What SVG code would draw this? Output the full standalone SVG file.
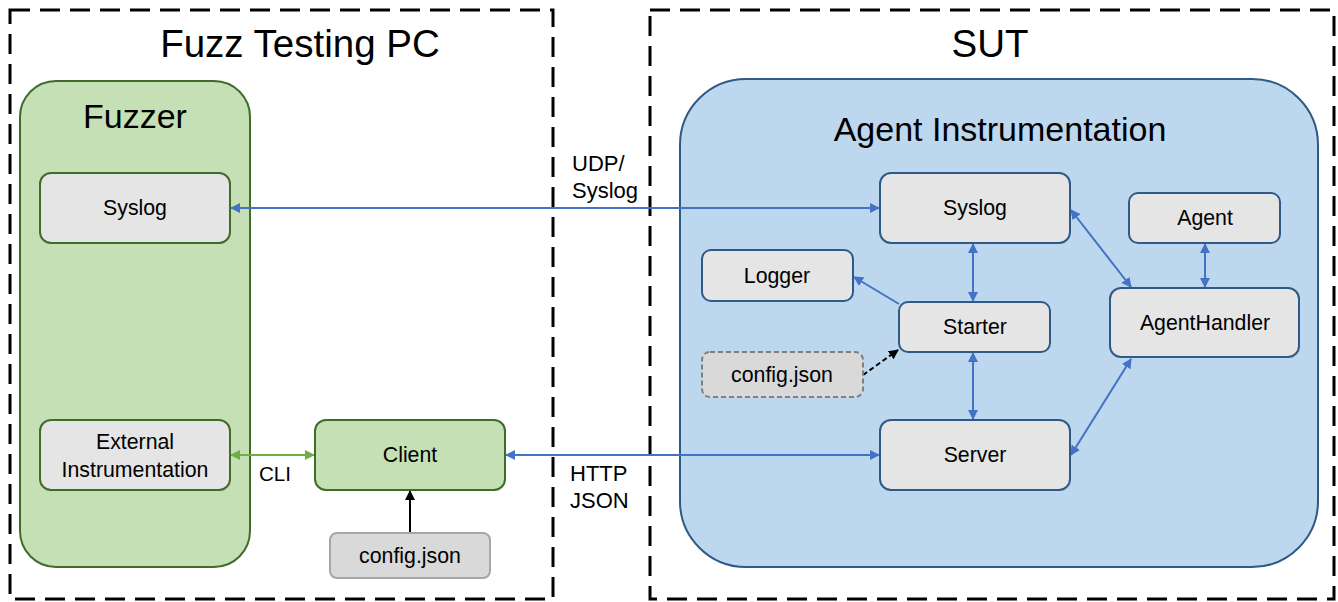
<svg xmlns="http://www.w3.org/2000/svg" width="1338" height="602" viewBox="0 0 1338 602">
  <style>
    text { font-family: "Liberation Sans", Arial, sans-serif; fill: #000; }
    .title { font-size: 38.5px; text-anchor: middle; }
    .head { font-size: 34px; text-anchor: middle; }
    .lbl { font-size: 21.3px; text-anchor: middle; }
    .edge { font-size: 22px; }
    .frame { fill: none; stroke: #000; stroke-width: 3; stroke-dasharray: 20 10; }
    .gnode { fill: #e5e5e5; stroke: #3f6b2b; stroke-width: 2; }
    .bnode { fill: #e5e5e5; stroke: #2f5a87; stroke-width: 2; }
    .blue { stroke: #4472c4; stroke-width: 2; fill: none; }
    .green { stroke: #70ad47; stroke-width: 2; fill: none; }
  </style>
  <defs>
    <marker id="ab" viewBox="0 0 10 10" refX="9" refY="5" markerWidth="5" markerHeight="5" orient="auto-start-reverse">
      <path d="M0,0 L10,5 L0,10 z" fill="#4472c4"/>
    </marker>
    <marker id="ag" viewBox="0 0 10 10" refX="9" refY="5" markerWidth="5" markerHeight="5" orient="auto-start-reverse">
      <path d="M0,0 L10,5 L0,10 z" fill="#70ad47"/>
    </marker>
    <marker id="ak" viewBox="0 0 10 10" refX="9" refY="5" markerWidth="5" markerHeight="5" orient="auto-start-reverse">
      <path d="M0,0 L10,5 L0,10 z" fill="#000"/>
    </marker>
  </defs>

  <rect width="1338" height="602" fill="#fff"/>

  <!-- host frames -->
  <g id="fuzz-pc">
    <rect class="frame" x="10" y="10" width="543" height="589"/>
    <text class="title" x="300" y="57">Fuzz Testing PC</text>
  </g>
  <g id="sut">
    <rect class="frame" x="650" y="10" width="684" height="589"/>
    <text class="title" x="990" y="57">SUT</text>
  </g>

  <!-- containers -->
  <g id="fuzzer">
    <rect x="20" y="81" width="230" height="486" rx="36" fill="#c5e0b4" stroke="#3f6b2b" stroke-width="2"/>
    <text class="head" x="135" y="128">Fuzzer</text>
  </g>
  <g id="agent-instrumentation">
    <rect x="680" y="79" width="638" height="488" rx="66" fill="#bdd7ee" stroke="#2f5a87" stroke-width="2"/>
    <text class="head" x="1000" y="141">Agent Instrumentation</text>
  </g>

  <!-- connectors -->
  <g id="connectors">
    <line class="blue" x1="231" y1="208" x2="879" y2="208" marker-start="url(#ab)" marker-end="url(#ab)"/>
    <line class="blue" x1="506" y1="455" x2="879" y2="455" marker-start="url(#ab)" marker-end="url(#ab)"/>
    <line class="green" x1="231" y1="455" x2="314" y2="455" marker-start="url(#ag)" marker-end="url(#ag)"/>
    <line x1="410" y1="532" x2="410" y2="491" stroke="#000" stroke-width="2" marker-end="url(#ak)"/>
    <line class="blue" x1="973" y1="244" x2="973" y2="301" marker-start="url(#ab)" marker-end="url(#ab)"/>
    <line class="blue" x1="973" y1="353" x2="973" y2="419" marker-start="url(#ab)" marker-end="url(#ab)"/>
    <line class="blue" x1="899" y1="304" x2="854" y2="277" marker-end="url(#ab)"/>
    <line x1="863" y1="375" x2="898" y2="350" stroke="#000" stroke-width="2" stroke-dasharray="5 3" marker-end="url(#ak)"/>
    <line class="blue" x1="1071" y1="210" x2="1131" y2="287" marker-start="url(#ab)" marker-end="url(#ab)"/>
    <line class="blue" x1="1205" y1="244" x2="1205" y2="287" marker-start="url(#ab)" marker-end="url(#ab)"/>
    <line class="blue" x1="1071" y1="455" x2="1131" y2="359" marker-start="url(#ab)" marker-end="url(#ab)"/>
    <text class="edge" x="572" y="171">UDP/</text>
    <text class="edge" x="572" y="198">Syslog</text>
    <text class="edge" x="259" y="481" style="font-size:20.6px">CLI</text>
    <text class="edge" x="570" y="481">HTTP</text>
    <text class="edge" x="570" y="508">JSON</text>
  </g>

  <!-- fuzzer side -->
  <g id="fuzzer-syslog">
    <rect class="gnode" x="40" y="173" width="190" height="70" rx="11"/>
    <text class="lbl" x="135" y="215">Syslog</text>
  </g>
  <g id="external-instrumentation">
    <rect class="gnode" x="40" y="420" width="190" height="70" rx="11"/>
    <text class="lbl" x="135" y="449">External</text>
    <text class="lbl" x="135" y="477">Instrumentation</text>
  </g>
  <g id="client">
    <rect x="315" y="420" width="190" height="70" rx="11" fill="#c5e0b4" stroke="#3f6b2b" stroke-width="2"/>
    <text class="lbl" x="410" y="462">Client</text>
  </g>
  <g id="client-config">
    <rect x="330" y="533" width="160" height="45" rx="7" fill="#d9d9d9" stroke="#a6a6a6" stroke-width="2"/>
    <text class="lbl" x="410" y="563">config.json</text>
  </g>

  <!-- SUT side -->
  <g id="sut-syslog">
    <rect class="bnode" x="880" y="173" width="190" height="70" rx="11"/>
    <text class="lbl" x="975" y="215">Syslog</text>
  </g>
  <g id="agent">
    <rect class="bnode" x="1129" y="193" width="151" height="50" rx="9"/>
    <text class="lbl" x="1205" y="225">Agent</text>
  </g>
  <g id="logger">
    <rect class="bnode" x="702" y="250" width="151" height="51" rx="9"/>
    <text class="lbl" x="777" y="283">Logger</text>
  </g>
  <g id="starter">
    <rect class="bnode" x="899" y="302" width="151" height="50" rx="9"/>
    <text class="lbl" x="975" y="334">Starter</text>
  </g>
  <g id="agent-handler">
    <rect class="bnode" x="1110" y="288" width="189" height="69" rx="11"/>
    <text class="lbl" x="1205" y="330">AgentHandler</text>
  </g>
  <g id="sut-config">
    <rect x="702" y="352" width="161" height="45" rx="8" fill="#d9d9d9" stroke="#7f7f7f" stroke-width="2" stroke-dasharray="5 3"/>
    <text class="lbl" x="782" y="382">config.json</text>
  </g>
  <g id="server">
    <rect class="bnode" x="880" y="420" width="190" height="70" rx="11"/>
    <text class="lbl" x="975" y="462">Server</text>
  </g>
</svg>
